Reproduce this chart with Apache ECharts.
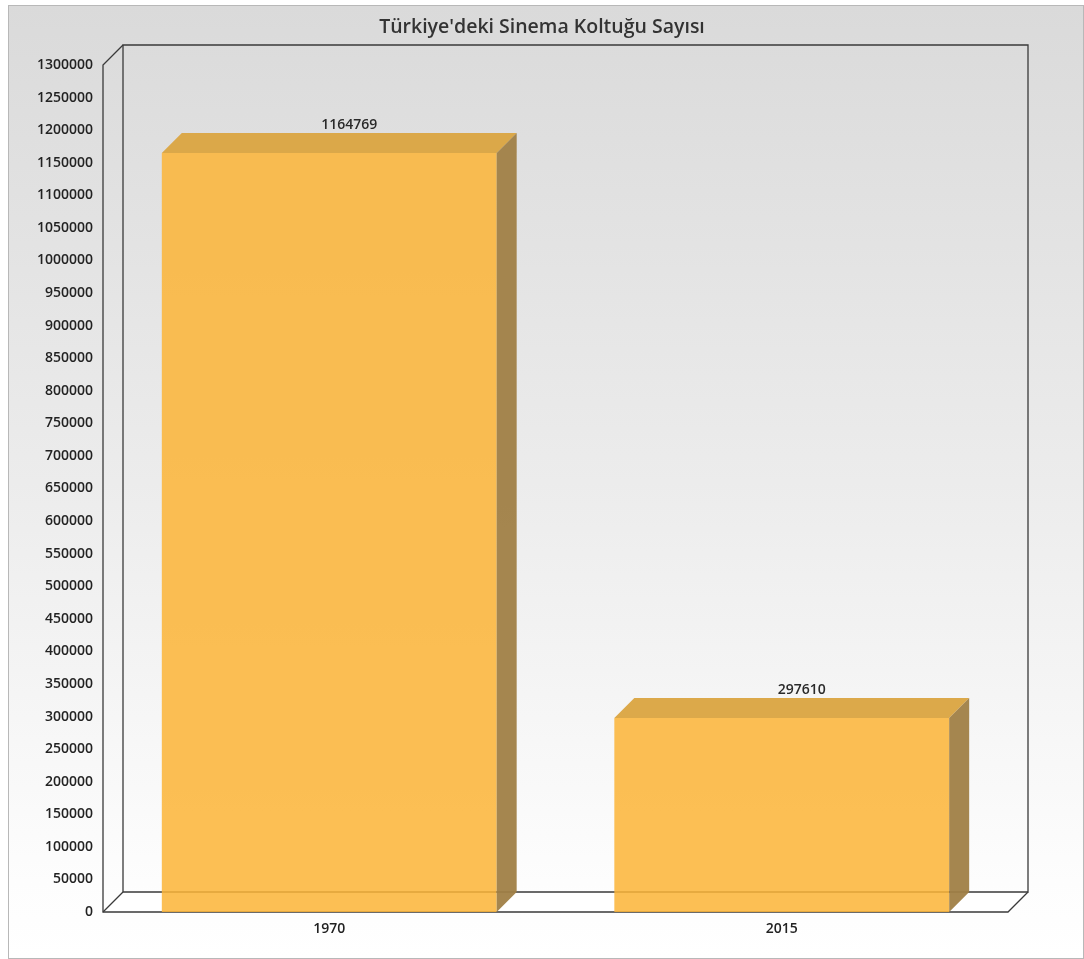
<!DOCTYPE html>
<html>
<head>
<meta charset="utf-8">
<script src="https://cdn.jsdelivr.net/npm/echarts@6/dist/echarts.min.js"></script>
<style>
html,body{margin:0;padding:0;background:#fff;}
#wrap{position:relative;width:1084px;height:959px;}
#bg{position:absolute;left:8px;top:5px;width:1074px;height:952px;border:1px solid #b8b8b8;background:linear-gradient(to bottom,#dadada 0%,#ececec 50%,#fdfdfd 92%,#ffffff 100%);}
#chart{position:absolute;left:0;top:0;width:1084px;height:959px;}
</style>
</head>
<body>
<div id="wrap"><div id="bg"></div><div id="chart"></div></div>
<script>
const titleText = "Türkiye'deki Sinema Koltuğu Sayısı";
const categories = ["1970", "2015"];
const values = [1164769, 297610];
const yMin = 0, yMax = 1300000, yStep = 50000;

const DEPTH = 20;
const chart = echarts.init(document.getElementById('chart'), null, {renderer: 'canvas'});

function renderFrame(params, api) {
  const cs = params.coordSys;
  const L = cs.x, T = cs.y, R = cs.x + cs.width, B = cs.y + cs.height;
  const d = DEPTH;
  const line = {stroke: '#3a3a3a', lineWidth: 1.3, fill: null};
  return {
    type: 'group',
    children: [
      {type: 'polygon', shape: {points: [[L, B], [L + d, B - d], [R + d, B - d], [R, B]]}, style: {fill: '#ffffff', stroke: null}},
      {type: 'polyline', shape: {points: [[L + d, B - d], [L + d, T - d], [R + d, T - d], [R + d, B - d], [L + d, B - d]]}, style: line},
      {type: 'polyline', shape: {points: [[L + d, T - d], [L, T], [L, B], [R, B], [R + d, B - d]]}, style: line},
      {type: 'line', shape: {x1: L, y1: B, x2: L + d, y2: B - d}, style: line}
    ]
  };
}

function renderBar(params, api) {
  const idx = api.value(0), val = api.value(1);
  const top = api.coord([idx, val]);
  const base = api.coord([idx, 0]);
  const w = api.size([1, 0])[0] * 0.74;
  const x0 = top[0] - w / 2, x1 = top[0] + w / 2, yT = top[1], yB = base[1];
  const d = DEPTH;
  return {
    type: 'group',
    children: [
      {type: 'rect', shape: {x: x0, y: yT, width: w, height: yB - yT}, style: {fill: 'rgba(252,180,56,0.86)'}},
      {type: 'polygon', shape: {points: [[x0, yT], [x0 + d, yT - d], [x1 + d, yT - d], [x1, yT]]}, style: {fill: 'rgba(218,164,64,0.95)'}},
      {type: 'polygon', shape: {points: [[x1, yT], [x1 + d, yT - d], [x1 + d, yB - d], [x1, yB]]}, style: {fill: 'rgba(160,128,70,0.95)'}},
      {type: 'text', style: {text: String(val), x: top[0] + d, y: yT - d - 1, align: 'center', verticalAlign: 'bottom', fill: '#2a2a2a', font: '600 14px "Open Sans", sans-serif'}}
    ]
  };
}

chart.setOption({
  animation: false,
  title: {
    text: titleText, left: 'center', top: 12,
    textStyle: {fontFamily: 'Open Sans', fontSize: 19.5, fontWeight: 600, color: '#333'}
  },
  grid: {left: 103, right: 76, top: 65, bottom: 47},
  xAxis: {
    type: 'category', data: categories,
    axisLine: {show: false}, axisTick: {show: false},
    axisLabel: {margin: 10, color: '#222', fontFamily: 'Open Sans', fontSize: 14, fontWeight: 600}
  },
  yAxis: {
    type: 'value', min: yMin, max: yMax, interval: yStep,
    axisLine: {show: false}, axisTick: {show: false}, splitLine: {show: false},
    axisLabel: {margin: 10, padding: [3, 0, 0, 0], color: '#222', fontFamily: 'Open Sans', fontSize: 14, fontWeight: 600, formatter: v => String(v)}
  },
  series: [
    {type: 'custom', z: 1, silent: true, renderItem: renderFrame, data: [[0, 0]]},
    {type: 'custom', z: 2, renderItem: renderBar, data: values.map((v, i) => [i, v])}
  ]
});
</script>
</body>
</html>
